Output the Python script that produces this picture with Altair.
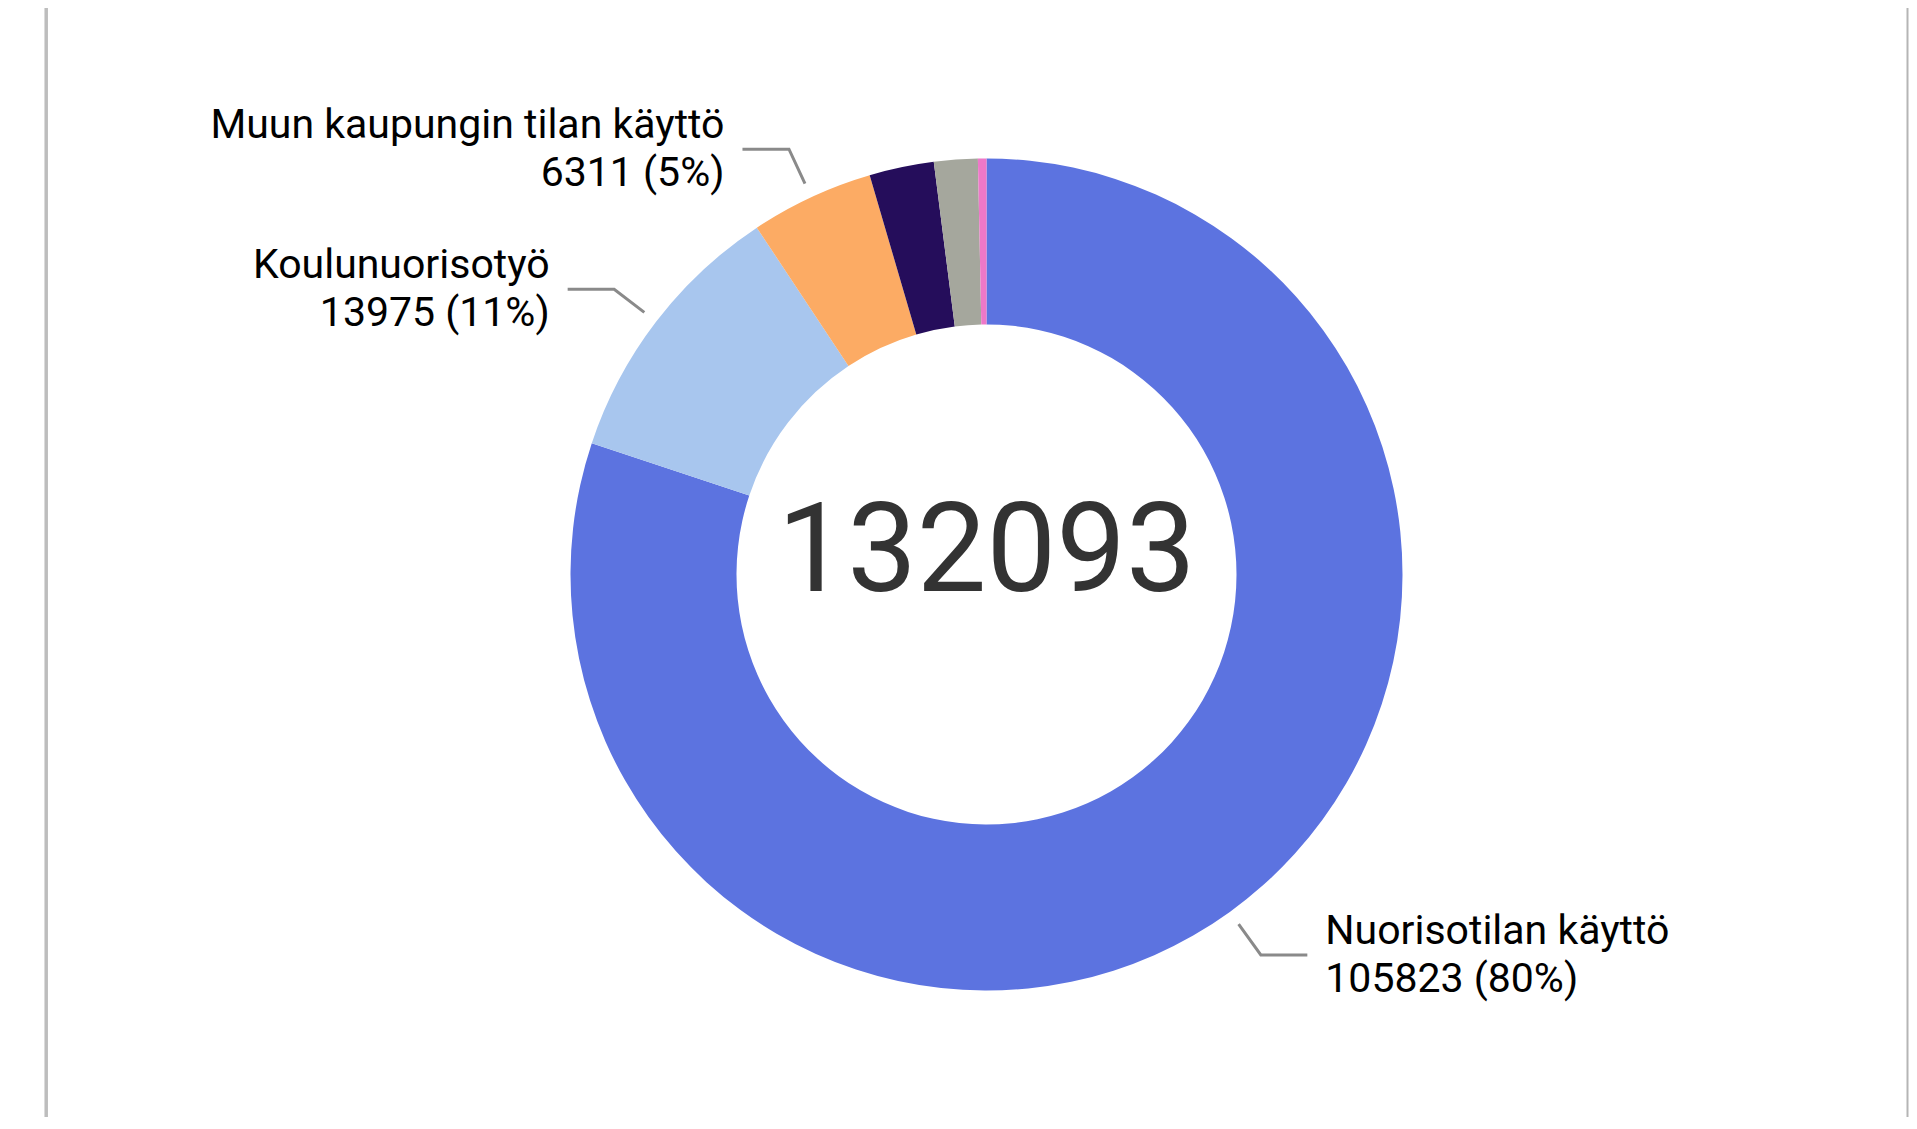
import math
import altair as alt
import pandas as pd

# ---- data ----
categories = ["Nuorisotilan käyttö", "Koulunuorisotyö", "Muun kaupungin tilan käyttö",
              "Muu 1", "Muu 2", "Muu 3"]
values = [105823, 13975, 6311, 3310, 2238, 436]
colors = ["#5C73E0", "#A8C6EE", "#FCAB64", "#250D5B", "#A5A79D", "#EE78C8"]
labelled = [True, True, True, False, False, False]

total = sum(values)

# ---- layout / style constants ----
OUTER, INNER = 416, 250
R1, R2 = 431, 469          # leader line start / elbow radius
HSEG, TGAP = 46.5, 18      # horizontal leader length, gap to text
W, H = 1843, 1061
PADL, PADT, PADR, PADB = 57, 36, 1, 12
LINE1_OFF, LINE2_OFF = 11, 37   # baseline offsets above / below elbow

slices = pd.DataFrame({"category": categories, "value": values,
                       "ord": list(range(len(values)))})

line_rows, right_rows, left_rows = [], [], []
cum = 0
for i, (c, v) in enumerate(zip(categories, values)):
    a0 = cum / total * 2 * math.pi
    cum += v
    a1 = cum / total * 2 * math.pi
    if not labelled[i]:
        continue
    m = (a0 + a1) / 2
    sx, cy = math.sin(m), math.cos(m)
    side = 1 if sx >= 0 else -1
    p1 = (R1 * sx, R1 * cy)
    p2 = (R2 * sx, R2 * cy)
    p3 = (p2[0] + side * HSEG, p2[1])
    for k, p in enumerate([p1, p2, p3]):
        line_rows.append({"label": c, "step": k, "x": p[0], "y": p[1]})
    pct = round(v / total * 100)
    tx = p3[0] + side * TGAP
    target = right_rows if side > 0 else left_rows
    target.append({"x": tx, "y": p2[1] + LINE1_OFF, "text": c})
    target.append({"x": tx, "y": p2[1] - LINE2_OFF, "text": f"{v} ({pct}%)"})

line_df = pd.DataFrame(line_rows)
right_df = pd.DataFrame(right_rows)
left_df = pd.DataFrame(left_rows)
center_df = pd.DataFrame({"x": [0], "y": [0], "text": [str(total)]})

xs = alt.X("x:Q", scale=alt.Scale(domain=[-W / 2, W / 2], nice=False, zero=False), axis=None)
ys = alt.Y("y:Q", scale=alt.Scale(domain=[-H / 2, H / 2], nice=False, zero=False), axis=None)

arc = alt.Chart(slices).mark_arc(outerRadius=OUTER, innerRadius=INNER).encode(
    theta=alt.Theta("value:Q", stack=True),
    color=alt.Color("category:N", scale=alt.Scale(domain=categories, range=colors), legend=None),
    order=alt.Order("ord:Q"),
)

leaders = alt.Chart(line_df).mark_line(color="#8A8A8A", strokeWidth=3).encode(
    x=xs, y=ys, detail="label:N", order="step:Q"
)

txt_right = alt.Chart(right_df).mark_text(
    font="Roboto", fontSize=41, color="#000000", align="left", baseline="alphabetic"
).encode(x=xs, y=ys, text="text:N")

txt_left = alt.Chart(left_df).mark_text(
    font="Roboto", fontSize=41, color="#000000", align="right", baseline="alphabetic"
).encode(x=xs, y=ys, text="text:N")

center = alt.Chart(center_df).mark_text(
    font="Roboto", fontSize=124, color="#333333", align="center", baseline="alphabetic", dy=16.5
).encode(x=xs, y=ys, text="text:N")

frame_df = pd.DataFrame({"k": [0]})
frame_left = alt.Chart(frame_df).mark_rule(color="#BDBDBD", strokeWidth=3.5).encode(
    x=alt.value(46.2 - 8 - PADL), y=alt.value(-PADT - 8), y2=alt.value(H + 100)
)
frame_right = alt.Chart(frame_df).mark_rule(color="#B5B5B5", strokeWidth=2).encode(
    x=alt.value(W - 0.5), y=alt.value(-PADT - 8), y2=alt.value(H + 100)
)

chart = alt.layer(arc, leaders, txt_right, txt_left, center, frame_left, frame_right).properties(
    width=W, height=H,
    autosize=alt.AutoSizeParams(type="none"),
    padding={"left": PADL, "top": PADT, "right": PADR, "bottom": PADB},
).configure_view(strokeWidth=0)

chart.save("out.html", embed_options={"renderer": "svg", "actions": False})
